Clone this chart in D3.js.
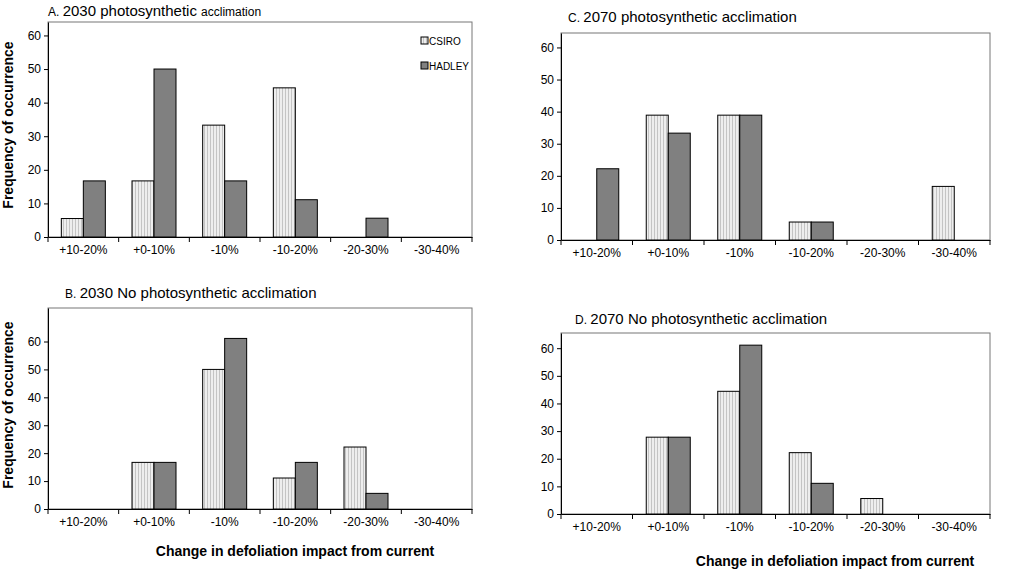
<!DOCTYPE html>
<html><head><meta charset="utf-8">
<script src="https://cdn.jsdelivr.net/npm/d3@7"></script>
<style>body{margin:0;background:#fff}text{font-family:"Liberation Sans",Arial,sans-serif}</style>
</head><body><svg width="1024" height="573"></svg>
<script>
var categories = ["+10-20%", "+0-10%", "-10%", "-10-20%", "-20-30%", "-30-40%"];
var csiroA = [5.5, 16.7, 33.3, 44.4, 0, 0];
var hadleyA = [16.7, 50, 16.7, 11.1, 5.6, 0];
var csiroB = [0, 16.7, 50, 11.1, 22.2, 0];
var hadleyB = [0, 16.7, 61.1, 16.7, 5.6, 0];
var csiroC = [0, 38.9, 38.9, 5.6, 0, 16.7];
var hadleyC = [22.2, 33.3, 38.9, 5.6, 0, 0];
var csiroD = [0, 27.8, 44.4, 22.2, 5.6, 0];
var hadleyD = [0, 27.8, 61.1, 11.1, 0, 0];
var yTicks = [0, 10, 20, 30, 40, 50, 60];

var svg = d3.select("svg");
var defs = svg.append("defs");
var pat = defs.append("pattern").attr("id", "stripe").attr("patternUnits", "userSpaceOnUse")
  .attr("width", 3).attr("height", 3);
pat.append("rect").attr("width", 3).attr("height", 3).attr("fill", "#eeeeee");
pat.append("rect").attr("width", 1).attr("height", 3).attr("fill", "#c4c4c4");

//Draw one panel
function panel(p) {
  var g = svg.append("g");
  var x = d3.scaleBand().domain(categories).range([p.x0, p.x1]);
  var y = d3.scaleLinear().domain([0, p.ymax]).range([p.y0, p.y1]);
  g.append("rect").attr("x", p.x0).attr("y", p.y1).attr("width", p.x1 - p.x0).attr("height", p.y0 - p.y1)
    .attr("fill", "none").attr("stroke", "#777");
  var bw = 22;
  categories.forEach(function (c, i) {
    var cx = x(c) + x.bandwidth() / 2;
    [[p.csiro[i], "url(#stripe)", cx - bw], [p.hadley[i], "#808080", cx]].forEach(function (d) {
      if (d[0] <= 0) return;
      g.append("rect").attr("x", d[2]).attr("y", y(d[0])).attr("width", bw).attr("height", y(0) - y(d[0]))
        .attr("fill", d[1]).attr("stroke", "#000").attr("stroke-width", 1);
    });
  });
  var ya = g.append("g").attr("transform", "translate(" + p.x0 + ",0)")
    .call(d3.axisLeft(y).tickValues(yTicks).tickSize(4).tickSizeOuter(0));
  ya.select(".domain").attr("stroke", "#000");
  ya.selectAll("text").attr("font-size", 12).attr("fill", "#000");
  var xa = g.append("g").attr("transform", "translate(0," + p.y0 + ")")
    .call(d3.axisBottom(x).tickSize(0).tickPadding(8).tickSizeOuter(0));
  xa.selectAll("text").attr("font-size", 12).attr("fill", "#000");
  xa.selectAll(".tick").each(function (d, i) {
    d3.select(this).append("line").attr("x1", -x.bandwidth() / 2).attr("x2", -x.bandwidth() / 2)
      .attr("y1", 0).attr("y2", 5).attr("stroke", "#000");
  });
  xa.append("line").attr("x1", p.x1).attr("x2", p.x1).attr("y1", 0).attr("y2", 5).attr("stroke", "#000");
  var t = g.append("text").attr("x", p.tx).attr("y", p.ty).attr("font-size", 15);
  t.append("tspan").attr("font-size", 12).text(p.letter + " ");
  t.append("tspan").text(p.title);
  if (p.small) t.append("tspan").attr("font-size", 12).text(p.small);
}

panel({x0: 48, x1: 472, y0: 237, y1: 22, ymax: 64, csiro: csiroA, hadley: hadleyA,
  letter: "A.", title: "2030  photosynthetic ", small: "acclimation", tx: 48, ty: 16});
panel({x0: 48, x1: 472, y0: 509, y1: 308, ymax: 72, csiro: csiroB, hadley: hadleyB,
  letter: "B.", title: "2030 No photosynthetic acclimation", tx: 65, ty: 298});
panel({x0: 561, x1: 990, y0: 240, y1: 33, ymax: 64.5, csiro: csiroC, hadley: hadleyC,
  letter: "C.", title: "2070  photosynthetic acclimation", tx: 568, ty: 22});
panel({x0: 561, x1: 990, y0: 514, y1: 333, ymax: 65.5, csiro: csiroD, hadley: hadleyD,
  letter: "D.", title: "2070 No photosynthetic acclimation", tx: 575, ty: 324});

//Legend
[["CSIRO", "url(#stripe)", 45], ["HADLEY", "#808080", 70]].forEach(function (d) {
  svg.append("rect").attr("x", 421).attr("y", d[2] - 8).attr("width", 7).attr("height", 7)
    .attr("fill", d[1]).attr("stroke", "#000");
  svg.append("text").attr("x", 429).attr("y", d[2]).attr("font-size", 10).text(d[0]);
});

//Axis titles
[[13, 125], [13, 405]].forEach(function (d) {
  svg.append("text").attr("transform", "translate(" + d[0] + "," + d[1] + ") rotate(-90)")
    .attr("text-anchor", "middle").attr("font-size", 14).attr("font-weight", "bold")
    .text("Frequency of occurrence");
});
svg.append("text").attr("x", 295).attr("y", 556).attr("text-anchor", "middle").attr("font-size", 14)
  .attr("font-weight", "bold").text("Change in defoliation impact from current");
svg.append("text").attr("x", 835).attr("y", 566).attr("text-anchor", "middle").attr("font-size", 14)
  .attr("font-weight", "bold").text("Change in defoliation impact from current");
</script></body></html>
